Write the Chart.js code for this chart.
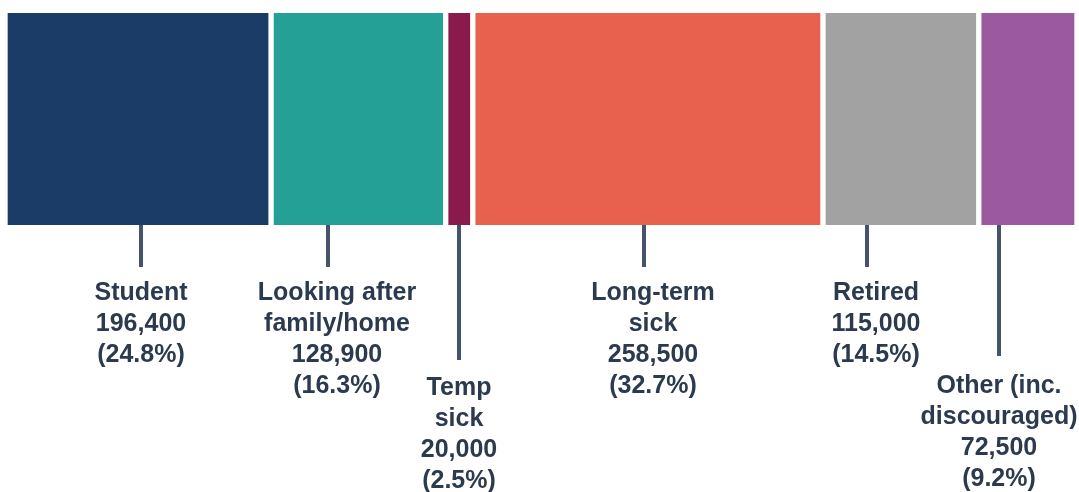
<!DOCTYPE html>
<html>
<head>
<meta charset="utf-8">
<script src="https://cdn.jsdelivr.net/npm/chart.js@4"></script>
<style>
  html, body { margin: 0; padding: 0; background: #fff; }
  #wrap { width: 1079px; height: 492px; position: relative; }
</style>
</head>
<body>
<div id="wrap"><canvas id="chart"></canvas></div>
<script>
const categories = [
  ['Student'],
  ['Looking after', 'family/home'],
  ['Temp', 'sick'],
  ['Long-term', 'sick'],
  ['Retired'],
  ['Other (inc.', 'discouraged)']
];
const values = [196400, 128900, 20000, 258500, 115000, 72500];
const colours = ['#1A3C66', '#25A096', '#8A1A4B', '#E8614E', '#A2A2A2', '#9B59A0'];

const total = values.reduce((a, b) => a + b, 0);

// leader line length and sideways nudge of each label
const leaderLen = [42, 42, 135, 42, 42, 131];
const leaderShift = [3, -30, 0, -4, -34, -29];
const textShift = [0, 9, 0, 9, 9, 0];
const textDrop = [0, 0, 2, 0, 0, 4];

const calloutPlugin = {
  id: 'callouts',
  afterDatasetsDraw(chart) {
    const ctx = chart.ctx;
    const bottom = chart.chartArea.bottom;
    ctx.save();
    chart.data.datasets.forEach((ds, i) => {
      const bar = chart.getDatasetMeta(i).data[0];
      const x = Math.round((bar.base + bar.x) / 2 + leaderShift[i]);
      const yEnd = bottom + leaderLen[i];
      ctx.strokeStyle = '#44546A';
      ctx.lineWidth = 4;
      ctx.beginPath();
      ctx.moveTo(x, bottom);
      ctx.lineTo(x, yEnd);
      ctx.stroke();

      const lines = categories[i].concat([
        values[i].toLocaleString('en-GB'),
        '(' + (values[i] / total * 100).toFixed(1) + '%)'
      ]);
      ctx.fillStyle = '#2B3A4F';
      ctx.font = 'bold 25px "Liberation Sans", Arial, sans-serif';
      ctx.textAlign = 'center';
      ctx.textBaseline = 'alphabetic';
      lines.forEach((t, j) => {
        ctx.fillText(t, x + textShift[i], yEnd + 33 + textDrop[i] + j * 31);
      });
    });
    ctx.restore();
  }
};

new Chart(document.getElementById('chart'), {
  type: 'bar',
  data: {
    labels: [''],
    datasets: values.map((v, i) => ({
      label: categories[i].join(' '),
      data: [v],
      backgroundColor: colours[i],
      borderColor: '#ffffff',
      borderWidth: { left: 3, right: 3, top: 0, bottom: 0 },
      borderSkipped: false,
      barPercentage: 1,
      categoryPercentage: 1
    }))
  },
  options: {
    indexAxis: 'y',
    responsive: true,
    maintainAspectRatio: false,
    animation: false,
    layout: { padding: { left: 5, right: 2, top: 13, bottom: 267 } },
    scales: {
      x: { stacked: true, display: false, min: 0, max: total },
      y: { stacked: true, display: false }
    },
    plugins: {
      legend: { display: false },
      tooltip: { enabled: false }
    }
  },
  plugins: [calloutPlugin]
});
</script>
</body>
</html>
